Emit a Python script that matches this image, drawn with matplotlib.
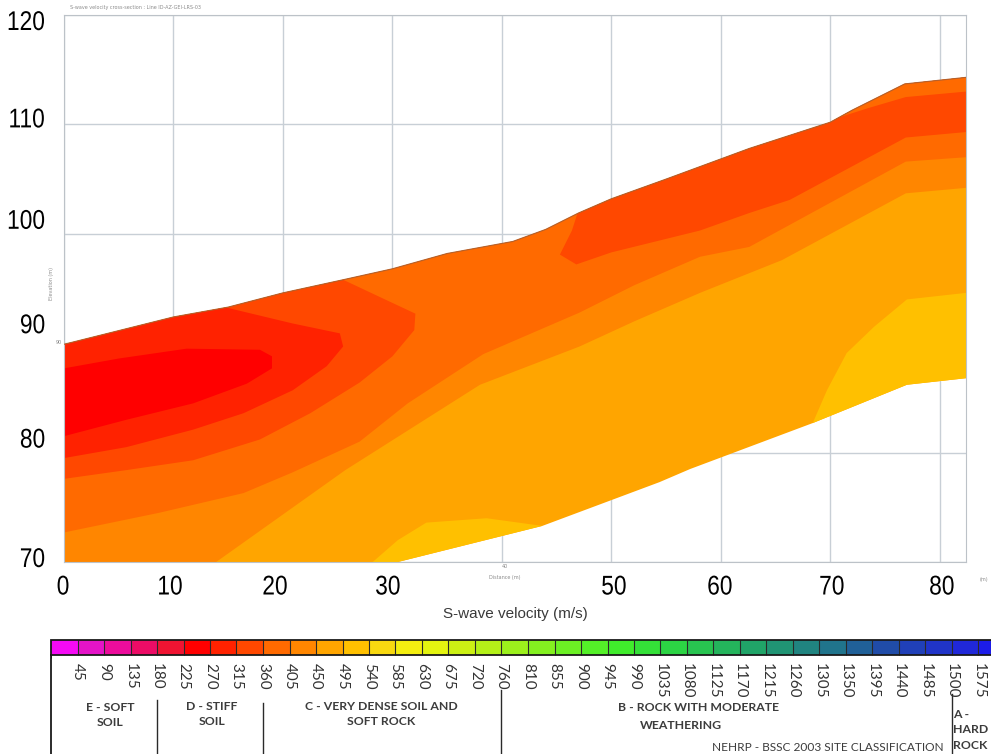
import numpy as np
import matplotlib
matplotlib.use("Agg")
import matplotlib.pyplot as plt
from matplotlib.colors import ListedColormap, BoundaryNorm
from matplotlib.cm import ScalarMappable
from matplotlib.transforms import ScaledTranslation, Affine2D
from matplotlib.patheffects import AbstractPathEffect

# ---------------- data ----------------
# colour classes of the velocity scale (m/s)
vel_bounds = [0, 45, 90, 135, 180, 225, 270, 315, 360, 405, 450, 495, 540, 585,
              630, 675, 720, 760, 810, 855, 900, 945, 990, 1035, 1080, 1125,
              1170, 1215, 1260, 1305, 1350, 1395, 1440, 1485, 1500, 1575, 1620]
vel_colors = ['#f50af5', '#e414c8', '#ec0c9c', '#ec0c66', '#f01432', '#ff0000',
              '#ff2200', '#ff4800', '#ff6a00', '#ff8600', '#ffa500', '#ffc000',
              '#f8d810', '#f4ee10', '#e4f410', '#ccf014', '#b4f018', '#9cf01c',
              '#84f020', '#6cf024', '#54f028', '#40ec2c', '#34e038', '#2cd444',
              '#28c450', '#24b45c', '#20a468', '#209474', '#208480', '#20748c',
              '#206098', '#204ca8', '#2040b8', '#2034c8', '#2028d8', '#1c1ce8']

# NEHRP site classes and their limits on the velocity scale
site_classes = ["E - SOFT\nSOIL", "D - STIFF\nSOIL", "C - VERY DENSE SOIL AND\nSOFT ROCK"]
class_edges = [180, 360, 760, 1500]

# ground surface (distance m, elevation m)
surf_x = [0, 10, 15, 20, 25.5, 30, 35, 41, 44, 47, 50, 55, 62.6, 70, 72, 76.8, 82.4]
surf_y = [89.9, 92.4, 93.3, 94.6, 95.8, 96.8, 98.2, 99.3, 100.4, 101.9, 103.2,
          105.0, 107.8, 110.2, 111.3, 113.7, 114.3]
# lower limit of the inverted section
base_x = [0, 30.5, 43.7, 54.4, 57.2, 68.4, 77.0, 82.4]
base_y = [70, 70, 73.3, 77.3, 78.5, 82.7, 86.2, 86.8]

# velocity isolines (m/s)
iso270_x = [0, 5, 11.2, 17.9, 19.0, 19.0, 16.7, 11.8, 5.7, 0]
iso270_y = [87.7, 88.6, 89.5, 89.4, 88.8, 87.7, 86.3, 84.5, 83.0, 81.5]

iso315_x = [20.9, 25.2, 25.5, 24.0, 20.9, 16.4, 11.8, 5.7, 0]
iso315_y = [91.8, 90.9, 89.7, 87.9, 85.7, 83.6, 82.1, 80.5, 79.5]

iso360w_x = [28.9, 32.1, 32.0, 30.0, 27.0, 22.5, 17.9, 11.8, 5.7, 0]
iso360w_y = [94.2, 92.7, 91.2, 88.8, 86.4, 83.6, 81.2, 79.3, 78.4, 77.6]

iso360e_x = [82.4, 76.9, 66.3, 62.6, 58.1, 50.0, 46.8, 45.3, 46.4]
iso360e_y = [109.3, 108.8, 103.1, 101.9, 100.3, 98.3, 97.2, 98.1, 100.3]

iso360cap_x = [82.4, 76.9, 73.5]
iso360cap_y = [113.0, 112.5, 111.5]

iso405_x = [0, 8.7, 16.4, 20.9, 27.0, 31.4, 38.3, 47.1, 52.1, 58.1, 62.6, 76.9, 82.4]
iso405_y = [72.7, 74.5, 76.3, 78.2, 81.0, 84.5, 89.0, 92.8, 95.3, 97.9, 98.8, 106.6, 107.0]

iso450_x = [13.9, 25.7, 38.0, 47.1, 52.1, 58.1, 65.6, 76.9, 82.4]
iso450_y = [70.0, 78.4, 86.2, 89.7, 92.0, 94.6, 97.6, 103.7, 104.2]

iso495e_x = [68.4, 69.7, 71.5, 74.0, 77.0, 82.4]
iso495e_y = [82.7, 85.7, 89.1, 91.5, 94.0, 94.6]
iso495s_x = [28.2, 30.5, 33.1, 38.6, 43.7]
iso495s_y = [70.0, 72.0, 73.6, 74.0, 73.3]

x_ticks = [0, 10, 20, 30, 40, 50, 60, 70, 80]
x_ticklabels = ['0', '10', '20', '30', '', '50', '60', '70', '80']
y_ticks = [70, 80, 90, 100, 110, 120]

# ---------------- helpers ----------------
cmap = ListedColormap(vel_colors)
norm = BoundaryNorm(vel_bounds, cmap.N)


def vcol(v):
    return cmap(norm(v))


def along(xs_ref, ys_ref, x0, x1):
    xs = [x0] + [x for x in xs_ref if x0 < x < x1] + [x1]
    return list(xs), list(np.interp(xs, xs_ref, ys_ref))


class Squeeze(AbstractPathEffect):
    """Horizontally condense a text path about its right edge or centre."""

    def __init__(self, sx=0.85, anchor='center'):
        super().__init__()
        self.sx = sx
        self.anchor = anchor

    def draw_path(self, renderer, gc, tpath, affine, rgbFace=None):
        ext = tpath.get_extents()
        x0 = ext.x1 if self.anchor == 'right' else 0.5 * (ext.x0 + ext.x1)
        t = Affine2D().translate(-x0, 0).scale(self.sx, 1).translate(x0, 0)
        renderer.draw_path(gc, tpath, t + affine, rgbFace)


# ---------------- figure ----------------
fig = plt.figure(figsize=(9.91, 7.54), dpi=100)
ax = fig.add_axes([64 / 991, 1 - 562 / 754, 902 / 991, 547 / 754])
ax.set_xlim(0, 82.4)
ax.set_ylim(70, 120)

# whole section, 450-495 m/s
sx, sy = along(surf_x, surf_y, 0, 82.4)
ax.fill(sx + base_x[::-1], sy + base_y[::-1], color=vcol(450), lw=0, zorder=2)

# faster pockets, > 495 m/s
bx, by = along(base_x, base_y, 68.4, 82.4)
ax.fill(iso495e_x + bx[::-1], iso495e_y + by[::-1], color=vcol(500), lw=0, zorder=2)
bx, by = along(base_x, base_y, 28.2, 43.7)
ax.fill(iso495s_x + bx[::-1], iso495s_y + by[::-1], color=vcol(500), lw=0, zorder=2)

# < 450 m/s
ax.fill(sx + iso450_x[::-1] + [0], sy + iso450_y[::-1] + [70], color=vcol(449), lw=0, zorder=2)
# < 405 m/s
ax.fill(sx + iso405_x[::-1], sy + iso405_y[::-1], color=vcol(404), lw=0, zorder=2)
# < 360 m/s, west and east bodies
wx, wy = along(surf_x, surf_y, 0, 25.5)
ax.fill(wx + iso360w_x, wy + iso360w_y, color=vcol(359), lw=0, zorder=2)
ex, ey = along(surf_x, surf_y, 46.9, 82.4)
ax.fill(ex + iso360e_x, ey + iso360e_y, color=vcol(359), lw=0, zorder=2)
# thin faster skin on the east crest
cx, cy = along(surf_x, surf_y, 70.8, 82.4)
ax.fill(cx + iso360cap_x, cy + iso360cap_y, color=vcol(404), lw=0, zorder=2)
# < 315 m/s
tx, ty = along(surf_x, surf_y, 0, 14.8)
ax.fill(tx + iso315_x, ty + iso315_y, color=vcol(314), lw=0, zorder=2)
# < 270 m/s low-velocity lens
ax.fill(iso270_x, iso270_y, color=vcol(269), lw=0, zorder=2)

# topography line
ax.plot(surf_x, surf_y, color='#b4602c', lw=0.8, zorder=3)

ax.set_xticks(x_ticks)
ax.set_xticklabels(x_ticklabels)
ax.set_yticks(y_ticks)
ax.set_yticklabels([str(v) for v in y_ticks])
ax.tick_params(length=0, labelsize=19.5, colors='black')
ax.tick_params(axis='x', pad=9)
ax.tick_params(axis='y', pad=13.5)
for lab in ax.get_xticklabels():
    lab.set_fontfamily(['Liberation Sans', 'DejaVu Sans'])
    lab.set_path_effects([Squeeze(0.84, 'center')])
for lab in ax.get_yticklabels():
    lab.set_fontfamily(['Liberation Sans', 'DejaVu Sans'])
    lab.set_path_effects([Squeeze(0.84, 'right')])

# nudge the large labels
for lab, dy in zip(ax.get_yticklabels(), [5, 15, 20, 15, 7, -5]):
    lab.set_transform(lab.get_transform() + ScaledTranslation(0, dy / 100, fig.dpi_scale_trans))
for lab, dx in zip(ax.get_xticklabels(), [-1, -3.5, -8, -4.5, 0, 2.5, -1, 1.5, 2]):
    lab.set_transform(lab.get_transform() + ScaledTranslation(dx / 100, 0, fig.dpi_scale_trans))

ax.grid(True, color='#c8cfd6', lw=1.0)
ax.set_axisbelow(True)
for sp in ax.spines.values():
    sp.set_color('#bcc2c8')
    sp.set_linewidth(0.8)

ax.set_xlabel('S-wave velocity (m/s)', fontsize=11, color='#3a3a3a',
              family=['Liberation Sans', 'DejaVu Sans'], labelpad=5)

# small captions of the section plot
small = dict(fontsize=3.5, color='#8c8c8c')
fig.text(70 / 991, 1 - 8 / 754, 'S-wave velocity cross-section : Line ID-AZ-GEI-LRS-03',
         va='center', **small)
fig.text(51 / 991, 1 - 283 / 754, 'Elevation (m)', rotation=90, ha='center', va='center', **small)
fig.text(62 / 991, 1 - 343 / 754, '90', ha='right', va='center', **small)
fig.text(505 / 991, 1 - 566 / 754, '40', ha='center', va='center', **small)
fig.text(505 / 991, 1 - 578 / 754, 'Distance (m)', ha='center', va='center', **small)
fig.text(984 / 991, 1 - 579 / 754, '(m)', ha='center', va='center', **small)

# ---------------- velocity scale ----------------
cax = fig.add_axes([51 / 991, 99 / 754, 954 / 991, 15 / 754])
cb = fig.colorbar(ScalarMappable(norm=norm, cmap=cmap), cax=cax, orientation='horizontal',
                  spacing='uniform', drawedges=True, ticks=vel_bounds[1:-1])
cb.set_ticklabels([str(v) for v in vel_bounds[1:-1]])
cb.outline.set_edgecolor('#1a1a1a')
cb.outline.set_linewidth(1.3)
cb.dividers.set_color('#2a2a2a')
cb.dividers.set_linewidth(0.8)
cax.tick_params(length=0, pad=6, labelsize=11, labelrotation=-90, colors='#333333')
for lab in cax.get_xticklabels():
    lab.set_fontfamily(['Lato', 'DejaVu Sans'])

# site classification panel
pax = fig.add_axes([51 / 991, 0, 954 / 991, 98 / 754])
pax.set_xlim(0, len(vel_bounds) - 1)
pax.set_ylim(0, 1)
pax.set_xticks([])
pax.set_yticks([])
for side in ['top', 'right', 'bottom']:
    pax.spines[side].set_visible(False)
pax.spines['left'].set_color('#1a1a1a')
pax.spines['left'].set_linewidth(1.3)
pax.patch.set_alpha(0)

for v, ytop in zip(class_edges, [0.55, 0.52, 0.65, 0.61]):
    i = vel_bounds.index(v)
    pax.plot([i, i], [0, ytop], color='#2a2a2a', lw=1.0)

bold = dict(fontsize=8.8, fontweight='bold', color='#3c3c3c', family=['Lato', 'DejaVu Sans'],
            linespacing=1.45)
pax.text(2.23, 0.40, site_classes[0], ha='center', va='center', **bold)
pax.text(6.08, 0.41, site_classes[1], ha='center', va='center', **bold)
pax.text(12.45, 0.41, site_classes[2], ha='center', va='center', **bold)
pax.text(24.45, 0.47, 'B - ROCK WITH MODERATE', ha='center', va='center', **bold)
pax.text(23.77, 0.29, 'WEATHERING', ha='center', va='center', **bold)
pax.text(34.05, 0.245, 'A -\nHARD\nROCK', ha='left', va='center', **bold)
pax.text(29.3, 0.07, 'NEHRP - BSSC 2003 SITE CLASSIFICATION', ha='center', va='center',
         fontsize=8.6, color='#3c3c3c', family=['Lato', 'DejaVu Sans'])

fig.savefig('out.png', dpi=100)
